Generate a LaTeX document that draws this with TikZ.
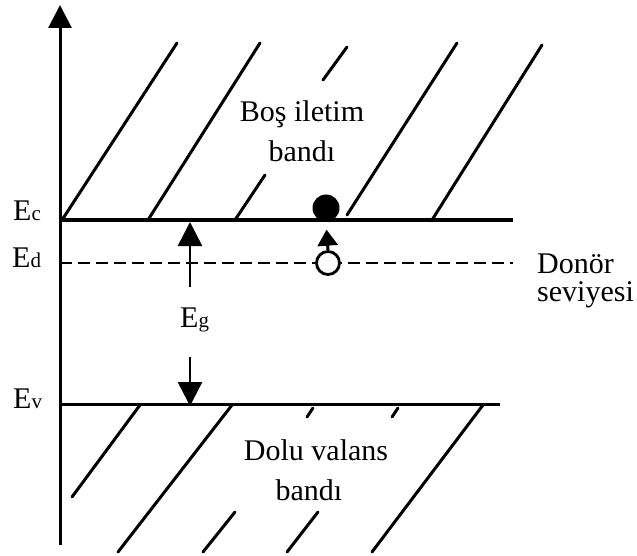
\documentclass[tikz,border=0pt]{standalone}
\usepackage{fontspec}
\setmainfont{Liberation Serif}
\usetikzlibrary{arrows.meta}
\newcommand\lsubtxt[1]{{\fontsize{21}{21}\selectfont #1}}
\begin{document}
\begin{tikzpicture}[x=1pt,y=-1pt,
  lbl/.style={inner sep=0pt, font=\fontsize{30}{36}\selectfont},
  hatch/.style={line width=3pt, line cap=round},
  bigtip/.style={-{Triangle[length=24pt,width=24pt]}, line width=2.6pt},
  smalltip/.style={-{Triangle[length=16pt,width=20pt]}, line width=3pt},
]
\useasboundingbox (0,0) rectangle (637,556);
% axis
\coordinate (axB) at (60,545);
\coordinate (axT) at (60,5);
\draw[line width=3pt, -{Triangle[length=23pt,width=23pt]}] (axB) -- (axT);
% levels
\coordinate (ecL) at (60,220); \coordinate (ecR) at (513,220);
\coordinate (edL) at (60,263); \coordinate (edR) at (513,263);
\coordinate (evL) at (60,404); \coordinate (evR) at (500,404);
\draw[line width=3.8pt] (ecL) -- (ecR);
\draw[line width=2.6pt, dash pattern=on 12pt off 6pt] (edL) -- (edR);
\draw[line width=3pt] (evL) -- (evR);
% upper hatch
\draw[hatch] (62,220) -- (177,43);
\draw[hatch] (148,220) -- (260,43);
\draw[hatch] (235,220) -- (265,175);
\draw[hatch] (323,80) -- (347,47);
\draw[hatch] (347,215) -- (457,43);
\draw[hatch] (432,220) -- (542,45);
% lower hatch
\draw[hatch] (140,405) -- (72,497);
\draw[hatch] (232,405) -- (118,552);
\draw[hatch] (313,408) -- (307,417);
\draw[hatch] (235,512) -- (203,552);
\draw[hatch] (398,408) -- (392,417);
\draw[hatch] (318,512) -- (287,552);
\draw[hatch] (483,405) -- (372,552);
% donor and electron
\node[circle, draw, fill=white, line width=2.8pt, minimum size=23pt, inner sep=0pt] (donor) at (328,263) {};
\node[circle, fill=black, minimum size=27pt, inner sep=0pt] (elec) at (326,208) {};
\draw[smalltip, shorten >=8pt] (donor.north) -- (elec.south);
% Eg
\node[lbl, anchor=base west] (eg) at (180,327) {E\lsubtxt{g}};
\coordinate (upS) at (190,287); \coordinate (upE) at (190,222);
\coordinate (dnS) at (190,357); \coordinate (dnE) at (190,406);
\draw[bigtip] (upS) -- (upE);
\draw[bigtip] (dnS) -- (dnE);
% level labels
\node[lbl, anchor=base west] (ec) at (13,221) {E\lsubtxt{c}};
\node[lbl, anchor=base west] (ed) at (12,267) {E\lsubtxt{d}};
\node[lbl, anchor=base west] (ev) at (13,408) {E\lsubtxt{v}};
% band texts
\node[lbl, anchor=base] (cb1) at (302,122) {Boş iletim};
\node[lbl, anchor=base] (cb2) at (302,162) {bandı};
\node[lbl, anchor=base] (vb1) at (316,460) {Dolu valans};
\node[lbl, anchor=base] (vb2) at (309,500) {bandı};
\node[lbl, anchor=base west] (dn1) at (537,273) {Donör};
\node[lbl, anchor=base west] (dn2) at (537,301) {seviyesi};
\end{tikzpicture}
\end{document}
